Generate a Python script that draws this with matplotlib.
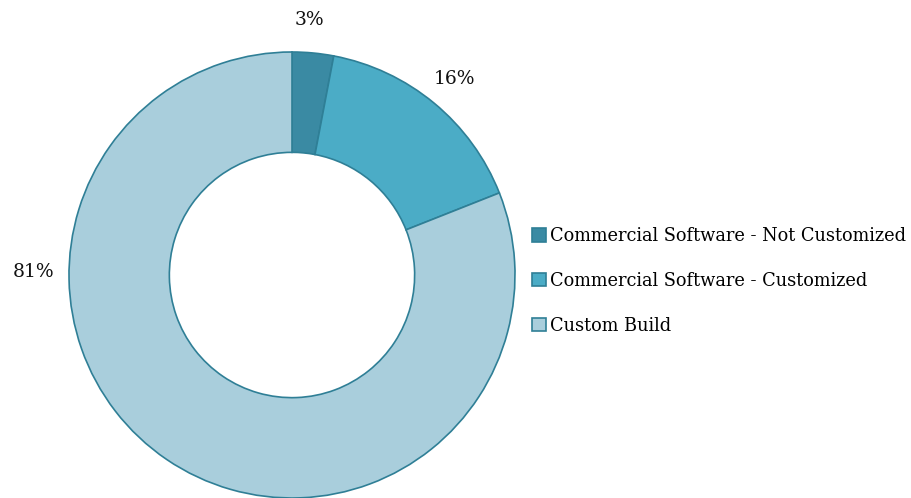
import matplotlib.pyplot as plt
import numpy as np

# Data
categories = ["Commercial Software - Not Customized",
              "Commercial Software - Customized",
              "Custom Build"]
shares = [3, 16, 81]
labels = ["3%", "16%", "81%"]
colors = ["#3A8AA3", "#4BACC6", "#A9CEDC"]
edge = "#2F7F96"

plt.rcParams['font.family'] = ['DejaVu Serif']

fig = plt.figure(figsize=(9.11, 4.98), dpi=100)
# square axes so the donut sits where the original does
ax = fig.add_axes([69 / 911, 0.0, 446 / 911, 446 / 498])

wedges, _ = ax.pie(shares, colors=colors, startangle=90, counterclock=False,
                   radius=1.0,
                   wedgeprops=dict(width=0.45, edgecolor=edge, linewidth=1.2))
ax.set_xlim(-1, 1)
ax.set_ylim(-1, 1)
ax.set_aspect('equal')
ax.axis('off')

# data labels outside the ring
cum = np.cumsum([0] + shares[:-1])
for i, (s, lab) in enumerate(zip(shares, labels)):
    mid = 90 - (cum[i] + s / 2) * 3.6
    if i == 2:
        # Excel puts the big one on the left
        x, y = -1.16, 0.015
    else:
        d = 1.14 if i else 1.15
        x, y = d * np.cos(np.radians(mid)), d * np.sin(np.radians(mid))
        if i == 0:
            x -= 0.03
    ax.text(x, y, lab, ha='center', va='center', fontsize=13.5, color='#111111')

fig.legend(wedges, categories, loc='center left', bbox_to_anchor=(0.5765, 0.436),
           frameon=False, fontsize=12.8, handlelength=0.75, handleheight=0.75,
           handletextpad=0.25, labelspacing=1.5, borderaxespad=0)

fig.savefig("out.png", dpi=100)
